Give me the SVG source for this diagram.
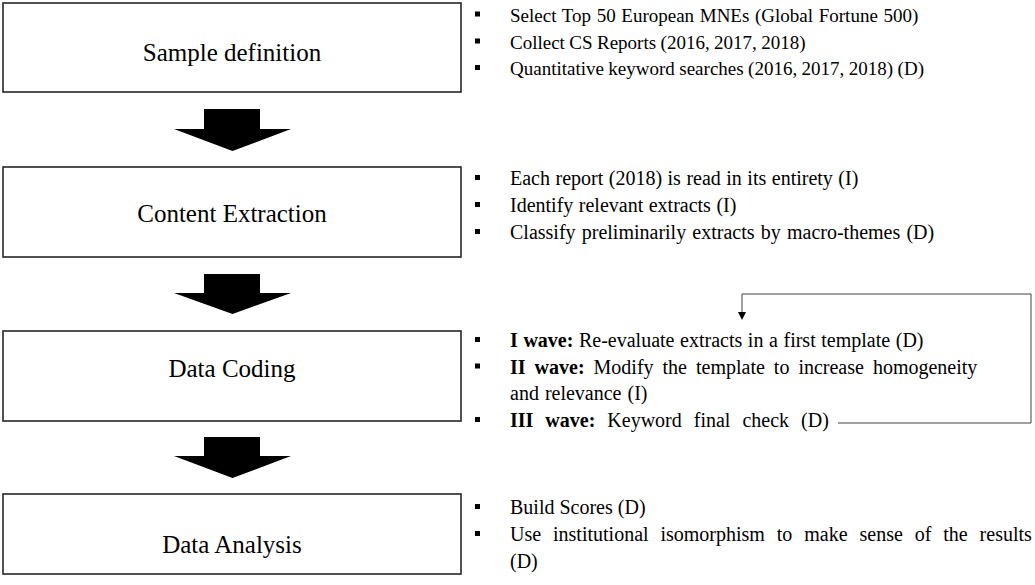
<svg xmlns="http://www.w3.org/2000/svg" width="1035" height="585" viewBox="0 0 1035 585">
<defs>
<style>
.box{fill:#fff;stroke:#262626;stroke-width:1.6}
.lbl{font-family:"Liberation Serif","Times New Roman",serif;font-size:25px;fill:#000;text-anchor:middle}
.t{font-family:"Liberation Serif","Times New Roman",serif;font-size:20px;fill:#000}
.s{font-size:19px}
.b{font-weight:bold}
.bul{fill:#000}
.big{fill:#000}
.fb{fill:none;stroke:#404040;stroke-width:1}
</style>
</defs>
<rect width="1035" height="585" fill="#fff"/>

<g id="connectors">
<polygon class="big" points="204,109 260,109 260,129 291,129 232.5,151 174,129 204,129"/>
<polygon class="big" points="204,274 260,274 260,293 291,293 232.5,314 174,293 204,293"/>
<polygon class="big" points="204,437 260,437 260,456 291,456 232.5,478 174,456 204,456"/>
<path class="fb" d="M838,423 H1031 V294 H742 V313"/>
<polygon fill="#000" points="738,312 746,312 742,320"/>
</g>

<g id="sample-definition">
<rect class="box" x="3" y="3" width="458" height="89"/>
<text class="lbl" x="232" y="60.5">Sample definition</text>
<rect class="bul" x="475" y="11.5" width="5" height="5"/>
<rect class="bul" x="475" y="38.5" width="5" height="5"/>
<rect class="bul" x="475" y="65" width="5" height="5"/>
<text class="t s" x="510" y="21.5" style="word-spacing:0.9px">Select Top 50 European MNEs (Global Fortune 500)</text>
<text class="t s" x="510" y="48.5" style="word-spacing:-0.3px">Collect CS Reports (2016, 2017, 2018)</text>
<text class="t s" x="510" y="75" style="word-spacing:-0.3px">Quantitative keyword searches (2016, 2017, 2018) (D)</text>
</g>

<g id="content-extraction">
<rect class="box" x="3" y="167" width="458" height="90"/>
<text class="lbl" x="232" y="221.5">Content Extraction</text>
<rect class="bul" x="475" y="175" width="5" height="5"/>
<rect class="bul" x="475" y="202" width="5" height="5"/>
<rect class="bul" x="475" y="229" width="5" height="5"/>
<text class="t" x="510" y="185" style="word-spacing:0.5px">Each report (2018) is read in its entirety (I)</text>
<text class="t" x="510" y="212" style="word-spacing:0.5px">Identify relevant extracts (I)</text>
<text class="t" x="510" y="239" style="word-spacing:1.2px">Classify preliminarily extracts by macro-themes (D)</text>
</g>

<g id="data-coding">
<rect class="box" x="3" y="331" width="458" height="90"/>
<text class="lbl" x="232" y="377">Data Coding</text>
<rect class="bul" x="475" y="337" width="5" height="5"/>
<rect class="bul" x="475" y="363.5" width="5" height="5"/>
<rect class="bul" x="475" y="417" width="5" height="5"/>
<text class="t" x="510" y="347" style="word-spacing:0.6px"><tspan class="b">I wave:</tspan> Re-evaluate extracts in a first template (D)</text>
<text class="t" x="510" y="373.5" style="word-spacing:4px"><tspan class="b">II wave:</tspan> Modify the template to increase homogeneity</text>
<text class="t" x="510" y="400" style="word-spacing:1px">and relevance (I)</text>
<text class="t" x="510" y="427" style="word-spacing:7px"><tspan class="b">III wave:</tspan> Keyword final check (D)</text>
</g>

<g id="data-analysis">
<rect class="box" x="3" y="494" width="458" height="80"/>
<text class="lbl" x="232" y="553">Data Analysis</text>
<rect class="bul" x="475" y="504" width="5" height="5"/>
<rect class="bul" x="475" y="531" width="5" height="5"/>
<text class="t" x="510" y="514">Build Scores (D)</text>
<text class="t" x="510" y="541" style="word-spacing:6.9px">Use institutional isomorphism to make sense of the results</text>
<text class="t" x="510" y="568">(D)</text>
</g>
</svg>
